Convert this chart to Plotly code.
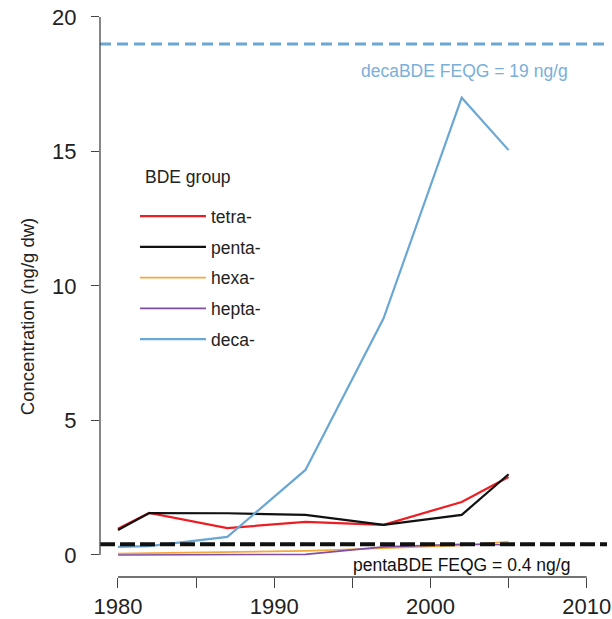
import plotly.graph_objects as go

# ---- data ----
years = [1980, 1982, 1987, 1992, 1997, 2002, 2005]
tetra = [0.97, 1.56, 1.00, 1.23, 1.12, 1.97, 2.90]
penta = [0.93, 1.56, 1.55, 1.49, 1.12, 1.49, 3.00]
hexa = [0.05, 0.07, 0.10, 0.15, 0.25, 0.35, 0.50]
hepta = [0.00, 0.00, 0.01, 0.02, 0.30, 0.40, 0.38]
deca = [0.30, 0.33, 0.67, 3.16, 8.80, 17.00, 15.05]

series_names = ["tetra-", "penta-", "hexa-", "hepta-", "deca-"]
series_values = [tetra, penta, hexa, hepta, deca]
series_colors = ["#ee1d23", "#111111", "#f7a738", "#7e4ea3", "#6aa7d5"]
series_widths = [2.2, 2.2, 1.6, 1.6, 2.2]

thresholds = [19, 0.4]
threshold_labels = ["decaBDE FEQG = 19 ng/g", "pentaBDE FEQG = 0.4 ng/g"]
threshold_colors = ["#6aa7d5", "#111111"]

xticks = [1980, 1985, 1990, 1995, 2000, 2005, 2010]
xticklabels = ["1980", "", "1990", "", "2000", "", "2010"]
yticks = [0, 5, 10, 15, 20]
yticklabels = ["0", "5", "10", "15", "20"]

FONT = "Liberation Sans, Arial, Helvetica, sans-serif"
AXC = "#444444"
TXT = "#222222"

fig = go.Figure()
for i, (n, v, c, w) in enumerate(zip(series_names, series_values, series_colors, series_widths)):
    fig.add_trace(go.Scatter(x=years, y=v, mode="lines", name=n,
                             legendgroup=f"g{i}",
                             line=dict(color=c, width=w)))

# threshold lines
fig.add_shape(type="line", xref="paper", yref="y", x0=0, x1=1,
              y0=thresholds[0], y1=thresholds[0],
              line=dict(color=threshold_colors[0], width=3, dash="11px,6px"), layer="above")
fig.add_shape(type="line", xref="paper", yref="y", x0=0, x1=1,
              y0=thresholds[1], y1=thresholds[1],
              line=dict(color=threshold_colors[1], width=4, dash="15px,5px"), layer="above")

fig.add_annotation(x=2002.2, y=18.0, text=threshold_labels[0], showarrow=False,
                   font=dict(family=FONT, size=17.5, color="#79afd9"))
fig.add_annotation(x=2002.0, y=-0.37, text=threshold_labels[1], showarrow=False,
                   font=dict(family=FONT, size=17.5, color="#111111"))

# legend title and y-axis title as free text
fig.add_annotation(xref="paper", yref="paper", x=0.084, y=0.705, xanchor="left",
                   yanchor="middle", text="BDE group", showarrow=False,
                   font=dict(family=FONT, size=17.5, color=TXT))
fig.add_annotation(xref="paper", yref="paper", x=-0.144, y=0.46, textangle=-90,
                   xanchor="center", yanchor="middle",
                   text="Concentration (ng/g dw)", showarrow=False,
                   font=dict(family=FONT, size=18.5, color=TXT))

# R-style detached axis lines
fig.add_shape(type="line", xref="x", yref="paper", x0=xticks[0], x1=xticks[-1],
              y0=0, y1=0, line=dict(color=AXC, width=1.3))
fig.add_shape(type="line", xref="paper", yref="y", x0=0, x1=0,
              y0=yticks[0], y1=yticks[-1], line=dict(color=AXC, width=1.3))

fig.update_layout(
    width=612, height=619,
    margin=dict(l=100, r=5, t=10, b=42),
    paper_bgcolor="white", plot_bgcolor="white",
    font=dict(family=FONT, color=TXT),
    showlegend=True,
    legend=dict(
        x=0.069, y=0.668, xanchor="left", yanchor="top",
        bgcolor="rgba(0,0,0,0)",
        font=dict(family=FONT, size=17.5, color=TXT),
        itemwidth=66, tracegroupgap=5,
    ),
    xaxis=dict(range=[1978.85, 2011.3], tickvals=xticks, ticktext=xticklabels,
               automargin=False, ticklabeloverflow="allow",
               showgrid=False, zeroline=False, showline=False,
               ticks="outside", ticklen=10, tickwidth=1.2, tickcolor=AXC,
               tickfont=dict(family=FONT, size=22, color=TXT)),
    yaxis=dict(range=[-0.82, 20.26], tickvals=yticks, ticktext=yticklabels,
               automargin=False, ticklabeloverflow="allow",
               showgrid=False, zeroline=False, showline=False,
               ticks="outside", ticklen=8, tickwidth=1.2, tickcolor=AXC,
               ticklabelstandoff=10,
               tickfont=dict(family=FONT, size=22, color=TXT)),
)

# remove the page's default body margin / scrollbars so the figure sits at (0, 0)
fig.write_html(
    "out.html",
    config={"displayModeBar": False},
    post_script="document.body.style.margin='0';document.documentElement.style.overflow='hidden';",
)
